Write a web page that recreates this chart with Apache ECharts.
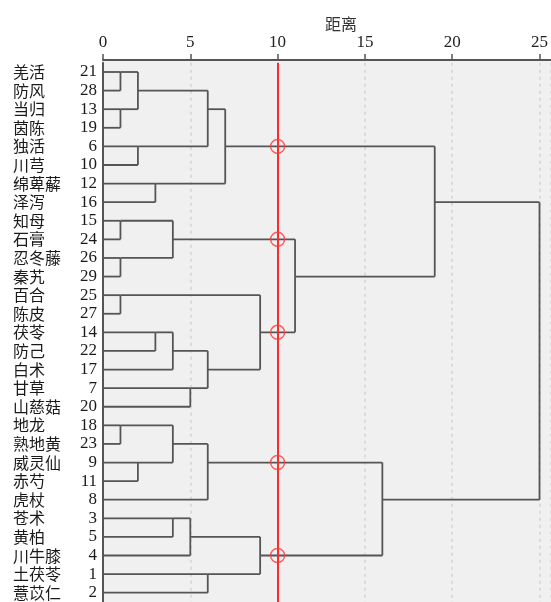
<!DOCTYPE html>
<html>
<head>
<meta charset="utf-8">
<script src="https://cdn.jsdelivr.net/npm/echarts@6/dist/echarts.min.js"></script>
<style>
html, body { margin: 0; padding: 0; background: #fff; }
#chart { width: 551px; height: 602px; }
</style>
</head>
<body>
<div id="chart"></div>
<script>
// 叶节点（自上而下的顺序）
var herbNames = ["羌活", "防风", "当归", "茵陈", "独活", "川芎", "绵萆薢", "泽泻", "知母", "石膏", "忍冬藤", "秦艽", "百合", "陈皮", "茯苓", "防己", "白术", "甘草", "山慈菇", "地龙", "熟地黄", "威灵仙", "赤芍", "虎杖", "苍术", "黄柏", "川牛膝", "土茯苓", "薏苡仁"];
var caseIds = [21, 28, 13, 19, 6, 10, 12, 16, 15, 24, 26, 29, 25, 27, 14, 22, 17, 7, 20, 18, 23, 9, 11, 8, 3, 5, 4, 1, 2];

// 聚类步骤：1-29 为个案号，100+k 为第 k 步生成的类
var mergeLeft = [21, 13, 15, 26, 25, 18, 100, 6, 9, 12, 14, 102, 110, 105, 3, 7, 114, 106, 112, 113, 1, 117, 104, 116, 111, 119, 121, 126];
var mergeRight = [28, 19, 24, 29, 27, 23, 101, 10, 11, 16, 22, 103, 17, 108, 5, 20, 4, 107, 115, 8, 2, 109, 118, 120, 122, 123, 124, 125];
var mergeDist = [1, 1, 1, 1, 1, 1, 2, 2, 2, 3, 3, 4, 4, 4, 4, 5, 5, 6, 6, 6, 6, 7, 9, 9, 11, 16, 19, 25];

// 截断距离
var cutDistance = 10;
var xTickLabels = [0, 5, 10, 15, 20, 25];

// 计算树状图线段
var nodes = {};
caseIds.forEach(function (c, i) {
  nodes[c] = { row: i, dist: 0 };
});
var segments = [];
mergeDist.forEach(function (d, k) {
  var a = nodes[mergeLeft[k]];
  var b = nodes[mergeRight[k]];
  a.parent = d;
  b.parent = d;
  nodes[100 + k] = { row: Math.floor((a.row + b.row) / 2), dist: d };
  segments.push([d, a.row, d, b.row]);
});
var cutPoints = [];
Object.keys(nodes).forEach(function (key) {
  var n = nodes[key];
  if (n.parent === undefined) return;
  segments.push([n.dist, n.row, n.parent, n.row]);
  if (n.dist < cutDistance && n.parent > cutDistance) {
    cutPoints.push([cutDistance, n.row]);
  }
});

var myChart = echarts.init(document.getElementById("chart"));
var option = {
  animation: false,
  title: {
    text: "距离",
    left: 320,
    top: 11,
    textStyle: {
      color: "#333",
      fontSize: 16,
      fontWeight: "normal",
      fontFamily: "Noto Sans CJK SC",
    },
  },
  grid: [
    {
      left: 103,
      right: 0,
      top: 62.7,
      bottom: -1.3,
    },
    {
      // 背景
      left: 103,
      right: 0,
      top: 60,
      bottom: 0,
      show: true,
      backgroundColor: "#f0f0f0",
      borderWidth: 0,
    },
  ],
  xAxis: [
    {
      type: "value",
      gridIndex: 0,
      position: "top",
      offset: 2.7,
      min: 0,
      max: 25.63,
      interval: 5,
      axisLine: {
        show: true,
        lineStyle: { color: "#555", width: 2 },
      },
      axisTick: {
        show: true,
        length: 6,
        lineStyle: { color: "#555", width: 1.5 },
      },
      axisLabel: {
        showMaxLabel: false,
        margin: 9,
        color: "#222",
        fontSize: 17,
        fontFamily: "Liberation Serif",
        formatter: function (v) {
          return xTickLabels.indexOf(v) >= 0 ? String(v) : "";
        },
      },
      splitLine: {
        show: true,
        lineStyle: { color: "#d2d2d2", width: 1.5, type: [3, 4] },
      },
    },
    { type: "value", gridIndex: 1, show: false },
  ],
  yAxis: [
    {
      type: "category",
      gridIndex: 0,
      inverse: true,
      data: herbNames,
      axisLine: {
        show: true,
        lineStyle: { color: "#555", width: 2 },
      },
      axisTick: { show: false },
      axisLabel: {
        margin: 6,
        interval: 0,
        formatter: function (value, index) {
          return "{n|" + value + "}{i|" + caseIds[index] + "}";
        },
        rich: {
          n: {
            width: 58,
            align: "left",
            color: "#1a1a1a",
            fontSize: 16,
            fontFamily: "Noto Sans CJK SC",
          },
          i: {
            width: 26,
            align: "right",
            color: "#1a1a1a",
            fontSize: 17,
            fontFamily: "Liberation Serif",
          },
        },
      },
      splitLine: { show: false },
    },
    { type: "value", gridIndex: 1, show: false },
  ],
  series: [
    {
      type: "custom",
      xAxisIndex: 0,
      yAxisIndex: 0,
      clip: false,
      encode: { x: [0, 2], y: [1, 3] },
      renderItem: function (params, api) {
        var p1 = api.coord([api.value(0), api.value(1)]);
        var p2 = api.coord([api.value(2), api.value(3)]);
        return {
          type: "line",
          shape: { x1: p1[0], y1: p1[1], x2: p2[0], y2: p2[1] },
          style: { stroke: "#555", lineWidth: 1.8 },
        };
      },
      data: segments,
      markLine: {
        silent: true,
        symbol: "none",
        label: { show: false },
        lineStyle: { color: "#ff2a2a", width: 2, type: "solid" },
        data: [{ xAxis: cutDistance }],
      },
    },
    {
      type: "scatter",
      xAxisIndex: 0,
      yAxisIndex: 0,
      symbol: "circle",
      symbolSize: 14,
      itemStyle: {
        color: "rgba(0,0,0,0)",
        borderColor: "#ff3b3b",
        borderWidth: 1.5,
      },
      z: 5,
      data: cutPoints,
    },
  ],
};
myChart.setOption(option);
</script>
</body>
</html>
